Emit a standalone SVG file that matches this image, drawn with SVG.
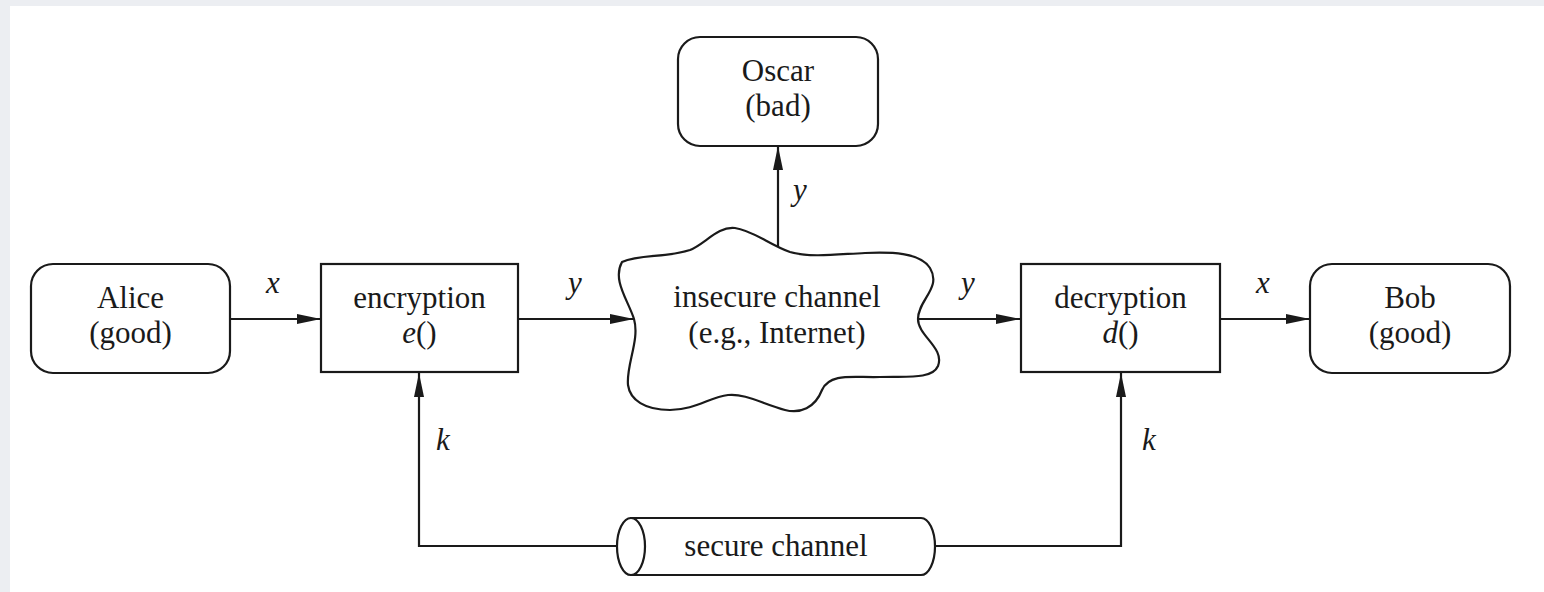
<svg xmlns="http://www.w3.org/2000/svg" width="1544" height="592" viewBox="0 0 1544 592">
  <style>
    .shape { fill: #ffffff; stroke: #1a1a1a; stroke-width: 2.2; }
    .wire { fill: none; stroke: #1a1a1a; stroke-width: 2.2; }
    .lbl { font-family: "Liberation Serif", "Times New Roman", serif; font-size: 31px; fill: #1a1a1a; text-anchor: middle; }
    .var { font-family: "Liberation Serif", "Times New Roman", serif; font-size: 31px; font-style: italic; fill: #1a1a1a; text-anchor: middle; }
  </style>
  <defs>
    <marker id="arrow" markerUnits="userSpaceOnUse" viewBox="0 0 24 10" refX="24" refY="5" markerWidth="24" markerHeight="10" orient="auto">
      <path d="M0,0 L24,5 L0,10 Z" fill="#1a1a1a"/>
    </marker>
  </defs>

  <!-- page backdrop -->
  <rect x="0" y="0" width="1544" height="592" fill="#eceef2"/>
  <rect x="10" y="6" width="1534" height="586" fill="#ffffff"/>

  <!-- connectors -->
  <g id="connectors">
    <path class="wire" d="M230,319 H321" marker-end="url(#arrow)"/>
    <path class="wire" d="M518,319 H634" marker-end="url(#arrow)"/>
    <path class="wire" d="M918,319 H1020" marker-end="url(#arrow)"/>
    <path class="wire" d="M1220,319 H1310" marker-end="url(#arrow)"/>
    <path class="wire" d="M778,251 V146" marker-end="url(#arrow)"/>
    <path class="wire" d="M640,546 H419 V373" marker-end="url(#arrow)"/>
    <path class="wire" d="M935,546 H1121 V373" marker-end="url(#arrow)"/>
    <text class="var" x="273" y="293">x</text>
    <text class="var" x="575" y="293">y</text>
    <text class="var" x="968" y="293">y</text>
    <text class="var" x="1263" y="293">x</text>
    <text class="var" x="800" y="200">y</text>
    <text class="var" x="443" y="450">k</text>
    <text class="var" x="1149" y="450">k</text>
  </g>

  <g id="alice">
    <rect class="shape" x="31" y="264" width="199" height="109" rx="22"/>
    <text class="lbl" x="130.5" y="308">Alice</text>
    <text class="lbl" x="130.5" y="343">(good)</text>
  </g>

  <g id="encryption">
    <rect class="shape" x="321" y="264" width="197" height="108"/>
    <text class="lbl" x="419.5" y="308">encryption</text>
    <text class="lbl" x="419.5" y="343"><tspan font-style="italic">e</tspan>()</text>
  </g>

  <g id="insecure-channel">
    <path class="shape" d="M622,262
      C640,254 665,258 690,250
      C705,244 718,226 735,228
      C752,230 770,245 790,252
      C810,258 840,254 865,253
      C890,252 920,252 930,268
      C942,288 918,300 918,319
      C918,336 945,348 938,366
      C932,380 905,376 880,377
      C855,378 830,372 822,390
      C815,408 800,414 785,410
      C765,405 745,393 728,395
      C710,397 695,410 670,410
      C645,410 630,400 628,385
      C626,365 640,340 634,319
      C628,300 612,280 622,262 Z"/>
    <text class="lbl" x="777" y="307">insecure channel</text>
    <text class="lbl" x="777" y="343">(e.g., Internet)</text>
  </g>

  <g id="oscar">
    <rect class="shape" x="678" y="37" width="200" height="109" rx="22"/>
    <text class="lbl" x="778" y="81">Oscar</text>
    <text class="lbl" x="778" y="116">(bad)</text>
  </g>

  <g id="decryption">
    <rect class="shape" x="1021" y="264" width="199" height="108"/>
    <text class="lbl" x="1120.5" y="308">decryption</text>
    <text class="lbl" x="1120.5" y="343"><tspan font-style="italic">d</tspan>()</text>
  </g>

  <g id="bob">
    <rect class="shape" x="1310" y="264" width="200" height="109" rx="22"/>
    <text class="lbl" x="1410" y="308">Bob</text>
    <text class="lbl" x="1410" y="343">(good)</text>
  </g>

  <g id="secure-channel">
    <path class="shape" d="M631,518 H921 A14,28.5 0 0 1 921,575 H631 Z"/>
    <ellipse class="shape" cx="631" cy="546.5" rx="14" ry="28.5"/>
    <text class="lbl" x="776" y="556">secure channel</text>
  </g>
</svg>
